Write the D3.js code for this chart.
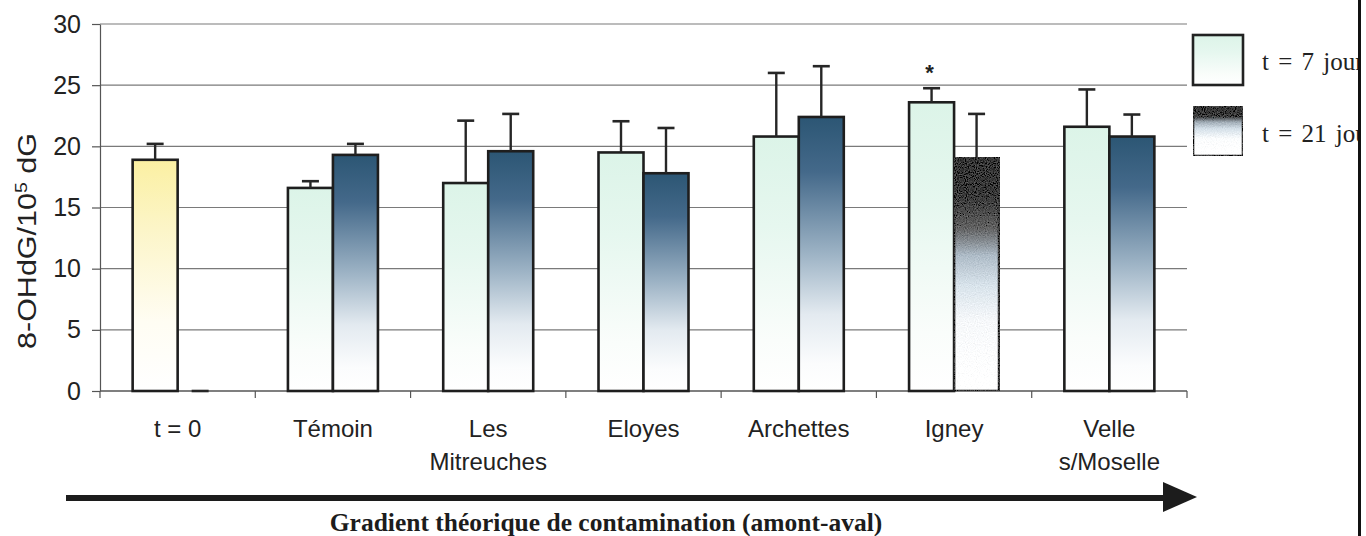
<!DOCTYPE html>
<html>
<head>
<meta charset="utf-8">
<script src="https://cdn.jsdelivr.net/npm/d3@7"></script>
<style>
  html, body { margin: 0; padding: 0; background: #fff; }
  svg { display: block; }
</style>
</head>
<body>
<svg id="chart" width="1366" height="536"></svg>
<script>
// Sampling sites along the river (upstream -> downstream); "\n" marks a line break in the label
const categories = ["t = 0", "Témoin", "Les\nMitreuches", "Eloyes", "Archettes", "Igney", "Velle\ns/Moselle"];
const seriesNames = ["t = 7 jours", "t = 21 jours"];
// 8-OHdG per 10^5 dG, mean and standard deviation
const day7 = [18.9, 16.6, 17.0, 19.5, 20.8, 23.6, 21.6];
const day7Err = [1.3, 0.55, 5.1, 2.55, 5.2, 1.15, 3.05];
const day21 = [0, 19.3, 19.6, 17.8, 22.4, 19.1, 20.8];
const day21Err = [0, 0.9, 3.05, 3.7, 4.15, 3.55, 1.8];
const yTicks = [0, 5, 10, 15, 20, 25, 30];
const starredSites = ["Igney"];

const svg = d3.select("#chart");
const defs = svg.append("defs");

function vGradient(id, stops) {
  const g = defs.append("linearGradient").attr("id", id)
    .attr("x1", 0).attr("y1", 0).attr("x2", 0).attr("y2", 1);
  stops.forEach(([o, c]) => g.append("stop").attr("offset", o).attr("stop-color", c));
}
vGradient("gYellow", [[0, "#fbf0a2"], [0.3, "#fcf5c8"], [0.7, "#fffdf3"], [1, "#ffffff"]]);
vGradient("gMint", [[0, "#dcf4e8"], [0.35, "#e6f7ef"], [0.8, "#fafdfb"], [1, "#ffffff"]]);
vGradient("gBlue", [[0, "#2c5674"], [0.2, "#44698a"], [0.5, "#9db3c5"], [0.72, "#e3eaf0"], [0.9, "#fbfcfd"], [1, "#ffffff"]]);
vGradient("gDark", [[0, "#151515"], [0.15, "#1a1a1a"], [0.3, "#555555"], [0.42, "#a9b7c3"], [0.55, "#d5e0e8"], [0.7, "#f3f5f7"], [1, "#ffffff"]]);
vGradient("gLegendDark", [[0, "#151515"], [0.2, "#1c1c1c"], [0.32, "#9aa6b0"], [0.45, "#cfdbe4"], [0.65, "#f7f9fa"], [1, "#ffffff"]]);

// grain for the dark dithered bar
const grain = defs.append("filter").attr("id", "grain")
  .attr("x", 0).attr("y", 0).attr("width", 1).attr("height", 1);
grain.append("feTurbulence").attr("type", "fractalNoise").attr("baseFrequency", 0.9)
  .attr("numOctaves", 1).attr("seed", 4).attr("result", "noise");
grain.append("feColorMatrix").attr("in", "noise").attr("type", "matrix")
  .attr("values", "0.33 0.33 0.33 0 0  0.33 0.33 0.33 0 0  0.33 0.33 0.33 0 0  0 0 0 0 1")
  .attr("result", "grey");
grain.append("feComposite").attr("in", "SourceGraphic").attr("in2", "grey")
  .attr("operator", "arithmetic").attr("k1", 0).attr("k2", 1).attr("k3", 0.5).attr("k4", -0.22)
  .attr("result", "mix");
grain.append("feComposite").attr("in", "mix").attr("in2", "SourceGraphic").attr("operator", "in");

const plotLeft = 100, plotRight = 1187, plotTop = 24, plotBottom = 391;
const x = d3.scaleBand().domain(categories).range([plotLeft, plotRight]).paddingInner(0).paddingOuter(0);
const barW = 45;
const xs = d3.scaleBand().domain(seriesNames)
  .range([x.bandwidth() / 2 - barW, x.bandwidth() / 2 + barW]);
const y = d3.scaleLinear().domain([0, 30]).range([plotBottom, plotTop]);

const font = "'Liberation Sans', Arial, sans-serif";
const serif = "'Liberation Serif', 'Times New Roman', serif";

// horizontal gridlines
svg.append("g").selectAll("line").data(yTicks.filter(v => v > 0)).join("line")
  .attr("x1", plotLeft).attr("x2", plotRight)
  .attr("y1", d => y(d)).attr("y2", d => y(d))
  .attr("stroke", "#7a7a7a").attr("stroke-width", 1.2);

// y axis
const yAxis = svg.append("g").attr("transform", `translate(${plotLeft},0)`)
  .call(d3.axisLeft(y).tickValues(yTicks).tickSize(8).tickSizeOuter(0).tickPadding(11));
yAxis.select(".domain").attr("stroke", "#555").attr("stroke-width", 1.2);
yAxis.selectAll(".tick line").attr("stroke", "#555").attr("stroke-width", 1.2);
yAxis.selectAll(".tick text").attr("font-family", font).attr("font-size", 25).attr("fill", "#222");

// x axis with ticks on category boundaries
const xAxisG = svg.append("g").attr("transform", `translate(0,${plotBottom})`);
xAxisG.append("line").attr("x1", plotLeft).attr("x2", plotRight).attr("stroke", "#555").attr("stroke-width", 1.4);
xAxisG.selectAll("line.bt").data(categories.map(c => x(c)).concat([plotRight])).join("line")
  .attr("class", "bt").attr("x1", d => d).attr("x2", d => d).attr("y1", 0).attr("y2", 7)
  .attr("stroke", "#555").attr("stroke-width", 1.2);
const xl = xAxisG.selectAll("text").data(categories).join("text")
  .attr("x", d => x(d) + x.bandwidth() / 2).attr("y", 46)
  .attr("text-anchor", "middle").attr("font-family", font).attr("font-size", 24).attr("fill", "#222");
xl.selectAll("tspan").data(d => d.split("\n")).join("tspan")
  .attr("x", function () { return d3.select(this.parentNode).attr("x"); })
  .attr("dy", (d, i) => i === 0 ? 0 : 32.5).text(d => d);

// y axis title
const yTitle = svg.append("text")
  .attr("transform", "translate(36,241) rotate(-90) scale(1.22,1)")
  .attr("text-anchor", "middle").attr("font-family", font).attr("font-size", 25).attr("fill", "#222");
yTitle.append("tspan").text("8-OHdG/10");
yTitle.append("tspan").attr("baseline-shift", "super").attr("font-size", 16).text("5");
yTitle.append("tspan").text(" dG");

// bars
const rows = categories.map((c, i) => ({
  cat: c,
  vals: [
    { s: seriesNames[0], v: day7[i], e: day7Err[i], fill: i === 0 ? "url(#gYellow)" : "url(#gMint)" },
    { s: seriesNames[1], v: day21[i], e: day21Err[i],
      fill: c === "Igney" ? "url(#gDark)" : "url(#gBlue)", grain: c === "Igney" }
  ]
}));

const groups = svg.append("g").selectAll("g").data(rows).join("g")
  .attr("transform", d => `translate(${x(d.cat)},0)`);

groups.selectAll("rect").data(d => d.vals.filter(b => b.v > 0)).join("rect")
  .attr("x", b => xs(b.s)).attr("width", xs.bandwidth())
  .attr("y", b => y(b.v)).attr("height", b => y(0) - y(b.v))
  .attr("fill", b => b.fill)
  .attr("filter", b => b.grain ? "url(#grain)" : null)
  .attr("stroke", "#1e1e1e").attr("stroke-width", 2.6);

// error bars (upper half only)
const capW = 17;
const eb = groups.selectAll("g.err").data(d => d.vals).join("g").attr("class", "err")
  .attr("transform", b => `translate(${xs(b.s) + xs.bandwidth() / 2},0)`);
eb.append("line").attr("x1", 0).attr("x2", 0)
  .attr("y1", b => y(b.v)).attr("y2", b => y(b.v + b.e))
  .attr("stroke", "#262626").attr("stroke-width", 2.4);
eb.append("line").attr("x1", -capW / 2).attr("x2", capW / 2)
  .attr("y1", b => y(b.v + b.e)).attr("y2", b => y(b.v + b.e))
  .attr("stroke", "#262626").attr("stroke-width", 2.6);

// significance marker
svg.append("g").selectAll("text").data(starredSites).join("text")
  .attr("x", d => x(d) + xs(seriesNames[0]) + xs.bandwidth() / 2 - 2)
  .attr("y", d => y(day7[categories.indexOf(d)] + day7Err[categories.indexOf(d)]) - 8)
  .attr("text-anchor", "middle").attr("font-family", font).attr("font-weight", "bold")
  .attr("font-size", 22).attr("fill", "#222").text("*");

// legend (clipped at the frame line on the right)
const clip = defs.append("clipPath").attr("id", "legendClip");
clip.append("rect").attr("x", 1150).attr("y", 0).attr("width", 208).attr("height", 536);
const legend = svg.append("g").attr("clip-path", "url(#legendClip)");
const legendFills = ["url(#gMint)", "url(#gLegendDark)"];
const legendBoxY = [35, 106];
const legendTextY = [70, 142];
seriesNames.forEach((name, i) => {
  legend.append("rect").attr("x", 1193).attr("y", legendBoxY[i]).attr("width", 50).attr("height", 50)
    .attr("fill", legendFills[i]).attr("filter", i === 1 ? "url(#grain)" : null)
    .attr("stroke", "#222").attr("stroke-width", 2.6);
  legend.append("text").attr("x", 1262).attr("y", legendTextY[i])
    .attr("font-family", serif).attr("font-size", 25).attr("word-spacing", 3).attr("fill", "#222").text(name);
});
svg.append("line").attr("x1", 1359.5).attr("x2", 1359.5).attr("y1", 0).attr("y2", 536)
  .attr("stroke", "#111").attr("stroke-width", 3);

// contamination gradient arrow
svg.append("line").attr("x1", 66).attr("x2", 1168).attr("y1", 498).attr("y2", 498)
  .attr("stroke", "#1c1c1c").attr("stroke-width", 6);
svg.append("path").attr("d", "M1163,482 L1197,497 L1163,512 Z").attr("fill", "#1c1c1c");
svg.append("text").attr("x", 606).attr("y", 531).attr("text-anchor", "middle")
  .attr("font-family", serif).attr("font-weight", "bold").attr("font-size", 25.5).attr("fill", "#1c1c1c")
  .text("Gradient théorique de contamination (amont-aval)");
</script>
</body>
</html>
